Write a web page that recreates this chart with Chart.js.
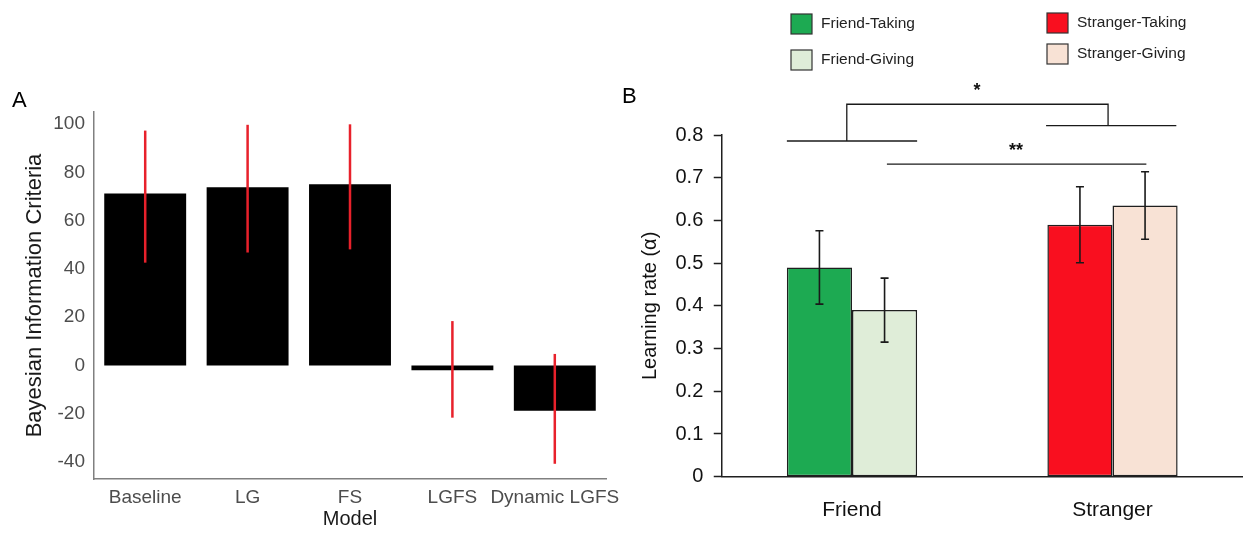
<!DOCTYPE html>
<html><head><meta charset="utf-8">
<script src="https://cdn.jsdelivr.net/npm/chart.js@4.4.1/dist/chart.umd.min.js"></script>
<style>
html,body{margin:0;padding:0;background:#fff;width:1244px;height:534px;overflow:hidden;}
#cA{position:absolute;left:0;top:0;}
#cB{position:absolute;left:620px;top:0;}
.lbl{position:absolute;font-family:"Liberation Sans",Arial,sans-serif;font-size:22px;color:#000;line-height:1;}
</style></head><body>
<canvas id="cA" width="620" height="534"></canvas>
<canvas id="cB" width="624" height="534"></canvas>
<div class="lbl" style="left:12px;top:89px">A</div>
<div class="lbl" style="left:622px;top:85px">B</div>
<script>
// ---------- Panel A data ----------
const modelLabels = ['Baseline', 'LG', 'FS', 'LGFS', 'Dynamic LGFS'];
const bicMean = [71.2, 73.8, 75.1, -2.0, -18.7];
const bicLow  = [42.6, 46.8, 48.1, -21.6, -40.7];
const bicHigh = [97.3, 99.7, 99.9, 18.4, 4.8];
const bicTicks = [-40, -20, 0, 20, 40, 60, 80, 100];

// ---------- Panel B data ----------
const groupLabels = ['Friend', 'Stranger'];
const friendTaking     = [0.49, null];
const friendTakingSE   = [0.086, null];
const friendGiving     = [0.39, null];
const friendGivingSE   = [0.075, null];
const strangerTaking   = [null, 0.59];
const strangerTakingSE = [null, 0.089];
const strangerGiving   = [null, 0.635];
const strangerGivingSE = [null, 0.079];
const rateTicks = [0, 0.1, 0.2, 0.3, 0.4, 0.5, 0.6, 0.7, 0.8];
// significance annotations (category index units, value units)
const sigLines = [
  [[-0.25, 0.786], [0.25, 0.786]],
  [[-0.02, 0.786], [-0.02, 0.872], [0.983, 0.872], [0.983, 0.822]],
  [[0.745, 0.822], [1.245, 0.822]],
  [[0.134, 0.732], [1.13, 0.732]]
];
const sigStars = [['*', 0.48, 0.902], ['**', 0.63, 0.762]];

Chart.defaults.font.family = '"Liberation Sans", Arial, Helvetica, sans-serif';
Chart.defaults.animation = false;

// ---------- Panel A ----------
const errA = {
  id: 'errA',
  afterDatasetsDraw(chart) {
    const {ctx, scales: {y}} = chart;
    const meta = chart.getDatasetMeta(0);
    ctx.save();
    ctx.strokeStyle = '#E8212B';
    ctx.lineWidth = 2.5;
    meta.data.forEach((bar, i) => {
      ctx.beginPath();
      ctx.moveTo(bar.x, y.getPixelForValue(bicLow[i]));
      ctx.lineTo(bar.x, y.getPixelForValue(bicHigh[i]));
      ctx.stroke();
    });
    ctx.restore();
  }
};

new Chart(document.getElementById('cA'), {
  type: 'bar',
  data: {
    labels: modelLabels,
    datasets: [{ label: 'BIC', data: bicMean, backgroundColor: '#000000', borderWidth: 0,
      barPercentage: 0.8, categoryPercentage: 1.0 }]
  },
  options: {
    responsive: false, devicePixelRatio: 1,
    layout: { padding: { top: 112, right: 14, bottom: 0, left: 0 } },
    plugins: { legend: { display: false }, tooltip: { enabled: false } },
    scales: {
      x: {
        grid: { display: false, drawTicks: false },
        border: { display: true, color: '#808080', width: 1.5 },
        ticks: { color: '#4D4D4D', font: { size: 19 }, padding: 7, maxRotation: 0, autoSkip: false },
        title: { display: true, text: 'Model', color: '#1A1A1A', font: { size: 20 }, padding: { top: 0, bottom: 3 } },
        afterFit(s) { s.height = 55; s.paddingLeft = 0; s.paddingRight = 0; }
      },
      y: {
        min: -47, max: 105,
        afterBuildTicks(s) { s.ticks = bicTicks.map(v => ({ value: v })); },
        grid: { display: false, drawTicks: false },
        border: { display: true, color: '#808080', width: 1.5 },
        ticks: { color: '#4D4D4D', font: { size: 19 }, padding: 9 },
        title: { display: true, text: 'Bayesian Information Criteria', color: '#1A1A1A', font: { size: 22 }, padding: { top: 22, bottom: 0 } },
        afterFit(s) { s.width = 94; }
      }
    }
  },
  plugins: [errA]
});

// ---------- Panel B ----------
const seB = [friendTakingSE, friendGivingSE, strangerTakingSE, strangerGivingSE];
const legendPos = [[171, 14], [171, 50], [427, 13], [427, 44]];

const errB = {
  id: 'errB',
  afterDatasetsDraw(chart) {
    const {ctx, scales: {x, y}} = chart;
    ctx.save();
    ctx.strokeStyle = '#1A1A1A';
    ctx.lineWidth = 1.6;
    chart.data.datasets.forEach((ds, di) => {
      const meta = chart.getDatasetMeta(di);
      ds.data.forEach((v, i) => {
        if (v === null) return;
        const bar = meta.data[i];
        const se = seB[di][i];
        const yt = y.getPixelForValue(v + se), yb = y.getPixelForValue(v - se);
        ctx.beginPath();
        ctx.moveTo(bar.x, yt); ctx.lineTo(bar.x, yb);
        ctx.moveTo(bar.x - 4, yt); ctx.lineTo(bar.x + 4, yt);
        ctx.moveTo(bar.x - 4, yb); ctx.lineTo(bar.x + 4, yb);
        ctx.stroke();
      });
    });
    // significance brackets
    ctx.lineWidth = 1.3;
    sigLines.forEach(pts => {
      ctx.beginPath();
      pts.forEach((p, k) => {
        const px = x.getPixelForValue(p[0]), py = y.getPixelForValue(p[1]);
        if (k === 0) ctx.moveTo(px, py); else ctx.lineTo(px, py);
      });
      ctx.stroke();
    });
    ctx.fillStyle = '#111';
    ctx.font = 'bold 18px "Liberation Sans", Arial, sans-serif';
    ctx.textAlign = 'center';
    ctx.textBaseline = 'middle';
    sigStars.forEach(s => ctx.fillText(s[0], x.getPixelForValue(s[1]), y.getPixelForValue(s[2])));
    ctx.restore();
  },
  afterDraw(chart) {
    const {ctx} = chart;
    ctx.save();
    ctx.font = '15.5px "Liberation Sans", Arial, sans-serif';
    ctx.textAlign = 'left';
    ctx.textBaseline = 'middle';
    chart.data.datasets.forEach((ds, i) => {
      const [bx, by] = legendPos[i];
      ctx.fillStyle = ds.backgroundColor;
      ctx.fillRect(bx, by, 21, 20);
      ctx.strokeStyle = '#333';
      ctx.lineWidth = 1.2;
      ctx.strokeRect(bx, by, 21, 20);
      ctx.fillStyle = '#222';
      ctx.fillText(ds.label, bx + 30, by + 10);
    });
    ctx.restore();
  }
};

const barCommon = { borderColor: '#1F1F1F', borderWidth: 1.5, borderSkipped: false,
  barPercentage: 1.0, categoryPercentage: 0.5 };

new Chart(document.getElementById('cB'), {
  type: 'bar',
  data: {
    labels: groupLabels,
    datasets: [
      Object.assign({ label: 'Friend-Taking', data: friendTaking, backgroundColor: '#1DAA52' }, barCommon),
      Object.assign({ label: 'Friend-Giving', data: friendGiving, backgroundColor: '#DFEDD8' }, barCommon),
      Object.assign({ label: 'Stranger-Taking', data: strangerTaking, backgroundColor: '#F90F1F' }, barCommon),
      Object.assign({ label: 'Stranger-Giving', data: strangerGiving, backgroundColor: '#F8E2D5' }, barCommon)
    ]
  },
  options: {
    responsive: false, devicePixelRatio: 1,
    skipNull: true,
    layout: { padding: { top: 135, right: 1.25, bottom: 0, left: 0 } },
    plugins: { legend: { display: false }, tooltip: { enabled: false } },
    scales: {
      x: {
        grid: { display: false, drawTicks: false },
        border: { display: true, color: '#1F1F1F', width: 1.5 },
        ticks: { color: '#111', font: { size: 21 }, padding: 20.5 },
        afterFit(s) { s.height = 57.3; s.paddingLeft = 0; s.paddingRight = 0; }
      },
      y: {
        min: 0, max: 0.8,
        afterBuildTicks(s) { s.ticks = rateTicks.map(v => ({ value: v })); },
        grid: { display: true, drawOnChartArea: false, drawTicks: true, tickLength: 8, color: '#1F1F1F', tickWidth: 1.5 },
        border: { display: true, color: '#1F1F1F', width: 1.5 },
        ticks: { color: '#111', font: { size: 20 }, padding: 10.5,
          callback: v => (v === 0 ? '0' : Number(v).toFixed(1)) },
        title: { display: true, text: 'Learning rate (α)', color: '#111', font: { size: 20 }, padding: { top: 18, bottom: 0 } },
        afterFit(s) { s.width = 101.75; }
      }
    }
  },
  plugins: [errB]
});
</script>
</body></html>
